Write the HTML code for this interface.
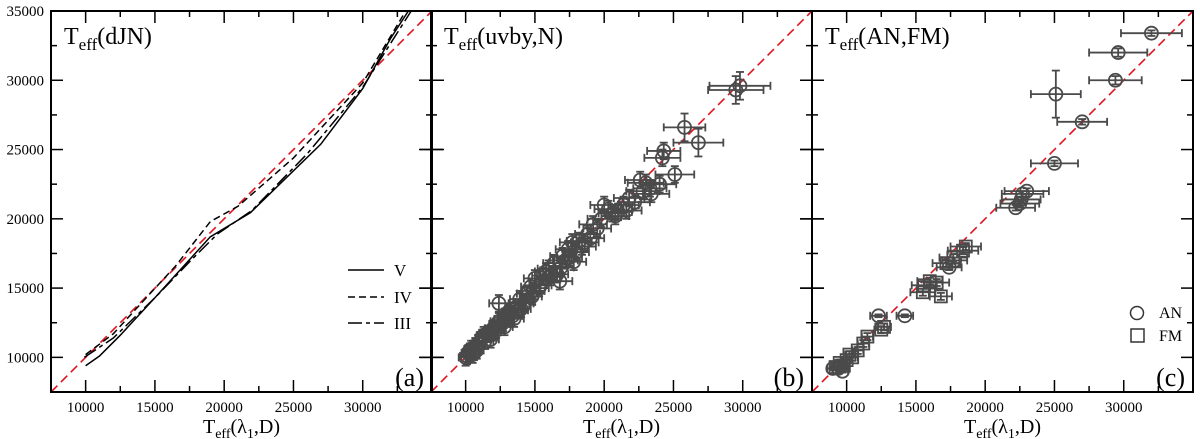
<!DOCTYPE html>
<html><head><meta charset="utf-8"><style>
html,body{margin:0;padding:0;background:#fff;}
svg{display:block;font-family:"Liberation Serif",serif;}
</style></head><body>
<svg id="chart" width="1200" height="439" viewBox="0 0 1200 439" xmlns="http://www.w3.org/2000/svg"></svg>
<script>
// ---- data ----
const xTicks = [10000,15000,20000,25000,30000];
const yTicks = [10000,15000,20000,25000,30000,35000];
const panelTitles = ["dJN","uvby,N","AN,FM"];
const panelLetters = ["(a)","(b)","(c)"];
// panel a curves [x,y]
const curveV = [[10000,9400],[11000,10100],[12500,11600],[15000,14300],[19000,18700],[21900,20450],[26970,25380],[30000,29400],[32000,33000],[33300,35000]];
const curveIV = [[10000,10200],[12000,11700],[14000,13900],[16500,16600],[19000,19800],[21000,20900],[25000,24400],[30000,29800],[33100,35000]];
const curveIII = [[9900,10000],[12000,11400],[15000,14300],[17500,16900],[19500,18900],[22000,20600],[26000,24700],[30000,29500],[33500,35000]];
// panel b points
const bX = [29500,29800,25800,26800,24300,24200,25100,23000,23300,23400,22200,21600,21000,20600,20000,20300,21400,19200,18200,17700,18600,18000,17200,17800,16400,16000,16600,15600,15000,16800,14700,15300,14400,13900,14200,13600,13200,12400,12900,13500,12400,12800,12000,11600,11300,11000,10700,10400,10100,10000,10500,10800,11800,12200,19500,18800,17000,16200,15800,14800,13000,12600,11200,10300,22600,24000,17400,19800,20800,14000,
  10200,10600,10900,11400,11900,12300,12700,13100,13400,13800,14300,14900,15400,16100,16900,17500,18400,19000,21800,22800];
const bY = [29300,29600,26600,25500,24900,24400,23200,22600,22200,21800,21200,20600,20500,20400,21000,20700,21000,19600,18400,18300,18300,17600,17000,16900,16800,16400,16000,15900,15700,15500,15100,15000,14600,14200,13900,13600,13300,13900,12900,12800,12600,12200,12100,11700,11600,11100,10800,10600,10100,10000,10200,10500,11300,12000,19300,18900,17300,16000,16200,14400,13000,12400,11400,10400,22800,22500,17800,20000,20200,13500,
  10300,10400,11000,11200,11800,12400,12500,13200,13000,13400,14000,14800,15200,15800,16500,17200,18000,18600,21500,22000];
const bXerr = [2000,2200,1500,1800,1200,1300,1400,1300,1200,1300,1100,1100,1000,1000,1000,1000,1100,1000,900,900,1000,900,900,900,800,800,800,800,800,900,700,700,700,700,700,700,600,700,600,700,600,600,600,500,500,500,500,500,500,500,500,500,600,600,1000,900,900,800,800,700,600,600,500,500,1100,1200,900,1000,1000,700,
  500,500,500,600,600,600,700,700,700,700,700,800,800,800,900,900,1000,1000,1100,1200];
const bYerr = bX.map((v,i)=> i<4?1000:600);
// panel c
const cCircX = [32000,29600,29400,25100,27000,25000,23000,22700,22600,22200,22500,17400,17800,12300,14200,9000,9400,9600,9700];
const cCircY = [33400,32000,30000,29000,27000,24000,22000,21800,21400,20800,21100,16500,17000,13000,13000,9200,9200,9400,9000];
const cCircXerr = [2200,2100,1900,1800,1800,1700,1600,1500,1400,1400,1400,900,900,600,600,400,400,400,400];
const cCircYerr = [200,300,300,1700,200,200,200,200,200,200,200,200,200,100,100,100,100,100,100];
const cSqX = [18600,18400,17700,17200,16000,15600,16500,15500,16800,12700,12500,11500,11200,10800,10400,10000,9500,9200,9800,10200];
const cSqY = [18000,17700,17200,16800,15500,15200,15400,14700,14400,12200,12000,11500,11000,10500,10000,9800,9600,9300,9400,10200];
const cSqXerr = [1100,1100,1000,1000,900,900,900,900,800,500,500,400,400,400,400,300,300,300,300,300];
const cSqYerr = cSqX.map(()=>250);

// ---- layout ----
const svg = document.getElementById('chart');
const NS = 'http://www.w3.org/2000/svg';
const lefts = [51,431,812], W = 381, TOP = 11, BOT = 392;
const D0 = 7500, D1 = 35000;
function sx(p,v){return lefts[p] + (v-D0)/(D1-D0)*W;}
function sy(v){return BOT - (v-D0)/(D1-D0)*(BOT-TOP);}
function el(tag, attrs, parent){const e=document.createElementNS(NS,tag);for(const k in attrs)e.setAttribute(k,attrs[k]);(parent||svg).appendChild(e);return e;}

for (let p=0;p<3;p++){
  const g = el('g',{});
  
  
  const L=lefts[p], R=L+W;
  const diag = el('line',{x1:sx(p,D0),y1:sy(D0),x2:sx(p,D1),y2:sy(D1),stroke:'#e0141e','stroke-width':1.6,'stroke-dasharray':'9,5'},g);
  
  
  for(let v=7500; v<=35000; v+=2500){
    const major = v%5000===0, len = major?12:6;
    const y=sy(v), x=sx(p,v);
    el('line',{x1:L-(p>0&&major?len:0),y1:y,x2:L+len,y2:y,stroke:'#000','stroke-width':1.5},g);
    el('line',{x1:R-len,y1:y,x2:R+(p<2&&major?len:0),y2:y,stroke:'#000','stroke-width':1.5},g);
    el('line',{x1:x,y1:BOT,x2:x,y2:BOT-len,stroke:'#000','stroke-width':1.5},g);
    el('line',{x1:x,y1:TOP,x2:x,y2:TOP+len,stroke:'#000','stroke-width':1.5},g);
  }
  xTicks.forEach(v=>{
    const t=el('text',{x:sx(p,v),y:412,'text-anchor':'middle','font-size':15},g);
    t.textContent=v;
    
    
  });
  const xt=el('text',{x:L+W/2,y:433,'text-anchor':'middle','font-size':20},g);
  xt.innerHTML='T<tspan font-size="14" dy="5">eff</tspan><tspan dy="-5">(λ</tspan><tspan font-size="14" dy="5">1</tspan><tspan dy="-5">,D)</tspan>';
  
  
  const tt=el('text',{x:L+13,y:44,'font-size':24},g);
  tt.innerHTML='T<tspan font-size="17" dy="6">eff</tspan><tspan dy="-6">('+panelTitles[p]+')</tspan>';
  
  
  const lt=el('text',{x:R-8,y:386,'text-anchor':'end','font-size':26},g);
  lt.textContent=panelLetters[p];
  
  
}
yTicks.forEach(v=>{
  const t=el('text',{x:44,y:sy(v)+5,'text-anchor':'end','font-size':15});
  t.textContent=v;
  
  
});

function curve(pts,dash,name){
  const d=pts.map((q,i)=>(i?'L':'M')+sx(0,q[0]).toFixed(1)+','+sy(q[1]).toFixed(1)).join(' ');
  const c=el('path',{d:d,fill:'none',stroke:'#000','stroke-width':1.5,'stroke-dasharray':dash});
  
  
}
curve(curveV,'none','curve-class-v');
curve(curveIV,'7,4','curve-class-iv');
curve(curveIII,'14,4,4,4','curve-class-iii');
[['V','none',270],['IV','7,4',297],['III','14,4,4,4',323]].forEach(l=>{
  const g=el('g',{});
  
  
  el('line',{x1:348,y1:l[2],x2:384,y2:l[2],stroke:'#000','stroke-width':1.5,'stroke-dasharray':l[1]},g);
  const t=el('text',{x:394,y:l[2]+6,'font-size':17},g);t.textContent=l[0];
});

function errPoint(p,x,y,xe,ye,shape){
  const g=el('g',{stroke:'#4a4a4a','stroke-width':1.8,fill:'none'});
  
  
  const X=sx(p,x),Y=sy(y),x1=sx(p,x-xe),x2=sx(p,x+xe),y1=sy(y-ye),y2=sy(y+ye);
  el('line',{x1:x1,y1:Y,x2:x2,y2:Y},g);
  el('line',{x1:x1,y1:Y-4,x2:x1,y2:Y+4},g);
  el('line',{x1:x2,y1:Y-4,x2:x2,y2:Y+4},g);
  el('line',{x1:X,y1:y1,x2:X,y2:y2},g);
  el('line',{x1:X-4,y1:y1,x2:X+4,y2:y1},g);
  el('line',{x1:X-4,y1:y2,x2:X+4,y2:y2},g);
  if(shape==='c') el('circle',{cx:X,cy:Y,r:6.5},g);
  else el('rect',{x:X-6,y:Y-6,width:12,height:12},g);
}
bX.forEach((v,i)=>errPoint(1,v,bY[i],bXerr[i],bYerr[i],'c'));
cSqX.forEach((v,i)=>errPoint(2,v,cSqY[i],cSqXerr[i],cSqYerr[i],'s'));
cCircX.forEach((v,i)=>errPoint(2,v,cCircY[i],cCircXerr[i],cCircYerr[i],'c'));

const lg=el('g',{stroke:'#333','stroke-width':1.5,fill:'none'});


el('circle',{cx:1137,cy:313,r:6.5},lg);
el('rect',{x:1131,y:329,width:13,height:13},lg);
[['AN',318],['FM',341]].forEach(l=>{
  const t=el('text',{x:1159,y:l[1],'font-size':16,fill:'#000',stroke:'none'});
  t.textContent=l[0];
  
  
});

for(let p=0;p<3;p++){
  const f=el('rect',{x:lefts[p],y:TOP,width:W,height:BOT-TOP,fill:'none',stroke:'#000','stroke-width':2});
  
  
}
</script>
</body></html>
